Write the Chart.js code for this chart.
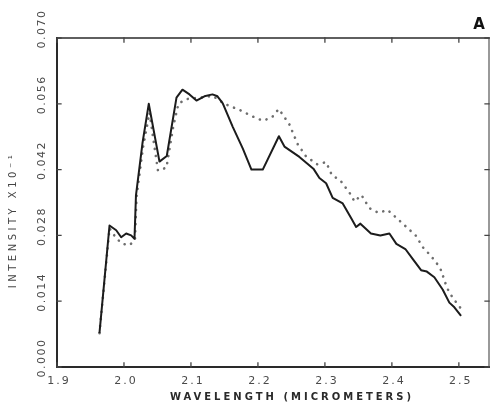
<!DOCTYPE html>
<html><head><meta charset="utf-8">
<script src="https://cdn.jsdelivr.net/npm/chart.js@4.4.0/dist/chart.umd.min.js"></script>
<style>html,body{margin:0;padding:0;background:#fff;}canvas{display:block;}</style>
</head><body>
<canvas id="c" width="490" height="407"></canvas>
<script>
const wavelengthSolid = [1.9634,1.9784,1.9884,1.9958,2.0033,2.0107,2.0157,2.0179,2.0276,2.0370,2.0530,2.0639,2.0784,2.0873,2.0978,2.1082,2.1201,2.1321,2.1396,2.1475,2.1624,2.1773,2.1903,2.2072,2.2313,2.2396,2.2619,2.2828,2.2918,2.3018,2.3116,2.3266,2.3391,2.3466,2.3530,2.3687,2.3828,2.3963,2.4067,2.4201,2.4310,2.4436,2.4522,2.4634,2.4758,2.4858,2.4933,2.5033];
const intensitySolid = [0.0072,0.0301,0.0291,0.0276,0.0284,0.0280,0.0273,0.0365,0.0476,0.0560,0.0437,0.0449,0.0573,0.0590,0.0580,0.0567,0.0576,0.0580,0.0576,0.0561,0.0511,0.0465,0.0420,0.0420,0.0491,0.0469,0.0447,0.0422,0.0402,0.0391,0.0360,0.0348,0.0317,0.0298,0.0305,0.0284,0.0280,0.0284,0.0262,0.0251,0.0230,0.0206,0.0203,0.0191,0.0165,0.0137,0.0127,0.0109];
const wavelengthDotted = [1.9634,1.9784,1.9884,1.9978,2.0082,2.0164,2.0187,2.0284,2.0381,2.0507,2.0634,2.0739,2.0813,2.0928,2.1127,2.1325,2.1500,2.1724,2.1922,2.2072,2.2209,2.2310,2.2370,2.2470,2.2594,2.2719,2.2888,2.3018,2.3104,2.3231,2.3391,2.3440,2.3545,2.3664,2.3799,2.3937,2.4063,2.4201,2.4361,2.4460,2.4560,2.4660,2.4734,2.4809,2.4858,2.4958,2.5060];
const intensityDotted = [0.0072,0.0295,0.0274,0.0262,0.0259,0.0270,0.0361,0.0467,0.0541,0.0418,0.0424,0.0514,0.0560,0.0570,0.0573,0.0577,0.0560,0.0547,0.0533,0.0524,0.0531,0.0549,0.0537,0.0516,0.0474,0.0448,0.0431,0.0436,0.0408,0.0397,0.0366,0.0352,0.0366,0.0338,0.0328,0.0334,0.0318,0.0300,0.0279,0.0255,0.0240,0.0223,0.0206,0.0174,0.0158,0.0138,0.0119];
const xTicks = [1.9,2.0,2.1,2.2,2.3,2.4,2.5];
const xTickLabels = ["1.9","2.0","2.1","2.2","2.3","2.4","2.5"];
const yTicks = [0,0.014,0.028,0.042,0.056,0.070];
const yTickLabels = ["0.000","0.014","0.028","0.042","0.056","0.070"];
const xTitle = "WAVELENGTH (MICROMETERS)";
const yTitle = "INTENSITY X10\u207B\u00B9";
const panelLabel = "A";

const toXY = (xs, ys) => xs.map((x, i) => ({x: x, y: ys[i]}));

const framePlugin = {
  id: 'frame',
  beforeDatasetsDraw(chart) {
    const {ctx, chartArea: a, scales} = chart;
    ctx.save();
    ctx.strokeStyle = '#2a2a2a';
    ctx.lineCap = 'square';
    ctx.lineWidth = 2;
    ctx.beginPath(); ctx.moveTo(a.left, a.top); ctx.lineTo(a.left, a.bottom); ctx.lineTo(a.right, a.bottom); ctx.stroke();
    ctx.lineWidth = 1.6;
    ctx.beginPath(); ctx.moveTo(a.left, a.top); ctx.lineTo(a.right, a.top); ctx.stroke();
    ctx.strokeStyle = '#555';
    ctx.lineWidth = 1.2;
    ctx.beginPath(); ctx.moveTo(a.right, a.top); ctx.lineTo(a.right, a.bottom); ctx.stroke();
    ctx.strokeStyle = '#444';
    ctx.lineWidth = 1.3;
    ctx.beginPath();
    xTicks.forEach(v => {
      const px = scales.x.getPixelForValue(v);
      ctx.moveTo(px, a.bottom); ctx.lineTo(px, a.bottom - 4);
      ctx.moveTo(px, a.top); ctx.lineTo(px, a.top + 4);
    });
    yTicks.forEach(v => {
      const py = scales.y.getPixelForValue(v);
      ctx.moveTo(a.left, py); ctx.lineTo(a.left + 4, py);
      ctx.moveTo(a.right, py); ctx.lineTo(a.right - 4, py);
    });
    ctx.stroke();
    ctx.restore();
  },
  afterDraw(chart) {
    const {ctx, chartArea: a, scales} = chart;
    ctx.save();
    ctx.fillStyle = '#4a4a4a';
    ctx.font = '11px "DejaVu Sans"';
    ctx.letterSpacing = '2px';
    ctx.textAlign = 'center';
    ctx.textBaseline = 'middle';
    xTicks.forEach((v, i) => {
      const px = scales.x.getPixelForValue(v);
      ctx.fillText(xTickLabels[i], px + 2, a.bottom + 14);
    });
    ctx.letterSpacing = '1.5px';
    yTicks.forEach((v, i) => {
      const py = scales.y.getPixelForValue(v);
      ctx.save();
      ctx.translate(42, py - 9);
      ctx.rotate(-Math.PI / 2);
      ctx.fillText(yTickLabels[i], 0, 0);
      ctx.restore();
    });
    ctx.fillStyle = '#2a2a2a';
    ctx.font = 'bold 10px "DejaVu Sans"';
    ctx.letterSpacing = '3px';
    ctx.fillText(xTitle, 292, 397);
    ctx.save();
    ctx.translate(13, 220);
    ctx.rotate(-Math.PI / 2);
    ctx.font = '10px "DejaVu Sans"';
    ctx.letterSpacing = '3.5px';
    ctx.fillStyle = '#444';
    ctx.fillText(yTitle, 0, 0);
    ctx.restore();
    ctx.letterSpacing = '0px';
    ctx.font = 'bold 15px "DejaVu Sans"';
    ctx.fillStyle = '#111';
    ctx.fillText(panelLabel, 479, 25);
    ctx.restore();
  }
};

new Chart(document.getElementById('c'), {
  type: 'line',
  data: {
    datasets: [
      {
        label: 'solid',
        data: toXY(wavelengthSolid, intensitySolid),
        borderColor: '#1c1c1c',
        borderWidth: 2,
        pointRadius: 0,
        tension: 0,
        fill: false,
        borderJoinStyle: 'round'
      },
      {
        label: 'dotted',
        data: toXY(wavelengthDotted, intensityDotted),
        borderColor: '#6e6e6e',
        borderWidth: 2.6,
        borderDash: [0.1, 7],
        borderCapStyle: 'round',
        pointRadius: 0,
        tension: 0,
        fill: false
      }
    ]
  },
  options: {
    responsive: false,
    devicePixelRatio: 1,
    animation: false,
    layout: {padding: {left: 0, right: 1, top: 38, bottom: 0}},
    plugins: {legend: {display: false}, tooltip: {enabled: false}},
    scales: {
      x: {
        type: 'linear', min: 1.9, max: 2.545,
        ticks: {display: false},
        grid: {display: false},
        border: {display: false},
        afterBuildTicks: s => { s.ticks = xTicks.map(v => ({value: v})); },
        afterFit: s => { s.height = 40; }
      },
      y: {
        type: 'linear', min: 0, max: 0.07,
        ticks: {display: false},
        grid: {display: false},
        border: {display: false},
        afterBuildTicks: s => { s.ticks = yTicks.map(v => ({value: v})); },
        afterFit: s => { s.width = 57; }
      }
    }
  },
  plugins: [framePlugin]
});
</script>
</body></html>
